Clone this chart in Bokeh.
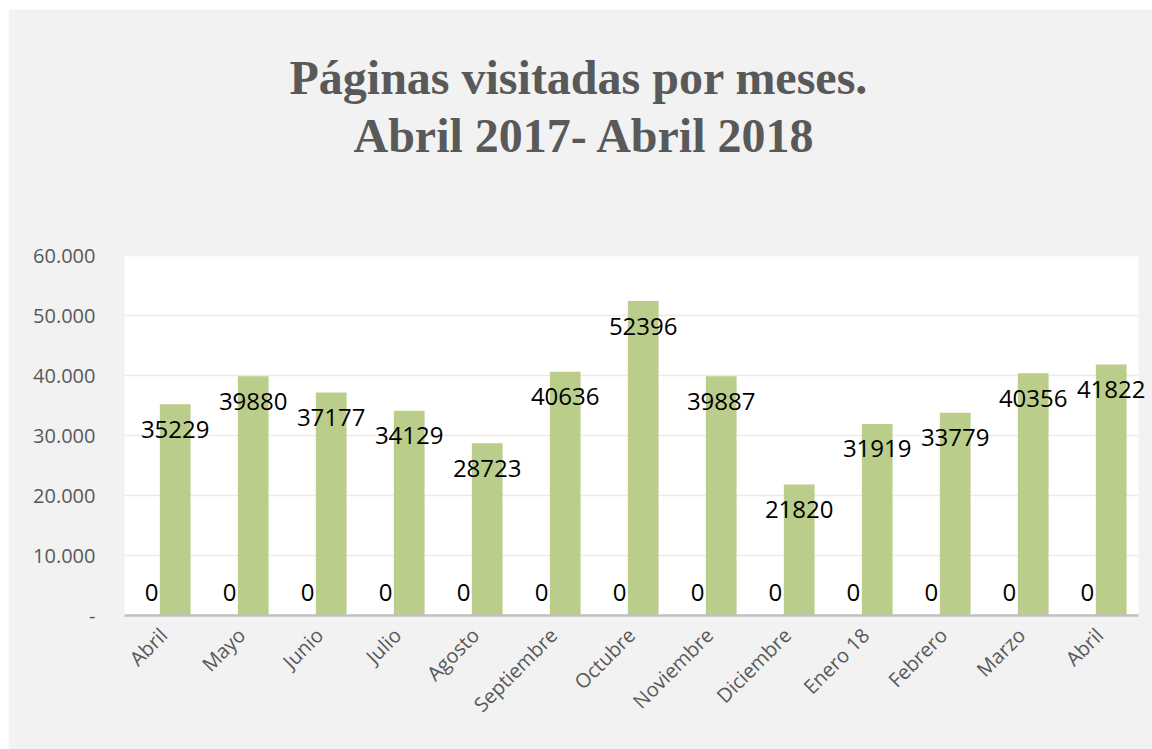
import math
from bokeh.plotting import figure
from bokeh.models import (FixedTicker, Range1d, LabelSet, ColumnDataSource, Title,
                          BoxAnnotation)
from bokeh.embed import file_html
from bokeh.resources import INLINE
from bokeh.core.properties import value

# ---- data ----
months = ["Abril", "Mayo", "Junio", "Julio", "Agosto", "Septiembre", "Octubre",
          "Noviembre", "Diciembre", "Enero 18", "Febrero", "Marzo", "Abril"]
visits = [35229, 39880, 37177, 34129, 28723, 40636, 52396,
          39887, 21820, 31919, 33779, 40356, 41822]
zero_series = [0, 0, 0, 0, 0, 0, 0, 0, 0, 0, 0, 0, 0]
y_ticks = [0, 10000, 20000, 30000, 40000, 50000, 60000]
y_tick_labels = ["-", "10.000", "20.000", "30.000", "40.000", "50.000", "60.000"]
title_line1 = "Páginas visitadas por meses."
title_line2 = "Abril 2017- Abril 2018"

# ---- styling ----
BAR_COLOR = "#bacd8a"
GRAY_TXT = "#595959"
FONT = "Open Sans"
TITLE_FONT = "Liberation Serif"

n = len(months)
idx = list(range(n))
bar_x = [i + 0.15 for i in idx]
zero_x = [i - 0.154 for i in idx]

src_vals = ColumnDataSource(dict(x=bar_x, y=visits, lbl=[str(v) for v in visits]))
src_zero = ColumnDataSource(dict(x=zero_x, y=zero_series, lbl=[str(v) for v in zero_series]))

p = figure(width=1144, height=741, margin=(9, 0, 0, 8),
           x_range=Range1d(-0.5, n - 0.5 + 0.1026), y_range=Range1d(0, 60000),
           output_backend="svg", toolbar_location=None,
           min_border_left=116, min_border_right=6, min_border_top=246, min_border_bottom=135,
           background_fill_color="#f2f2f2", border_fill_color="#f2f2f2",
           outline_line_color=None)

# white plot area (category span only)
p.add_layout(BoxAnnotation(left=-0.5, right=n - 0.5, bottom=y_ticks[0], top=y_ticks[-1],
                           fill_color="white", fill_alpha=1.0, line_color=None,
                           level="underlay"))

# horizontal grid lines, drawn over the category span
p.segment(x0=[-0.5] * len(y_ticks), x1=[n - 0.5] * len(y_ticks), y0=y_ticks, y1=y_ticks,
          line_color="#ebebeb", line_width=1.5)
p.xgrid.grid_line_color = None
p.ygrid.grid_line_color = None

p.vbar(x="x", top="y", width=0.394, source=src_vals, fill_color=BAR_COLOR, line_color=None)

p.add_layout(LabelSet(x="x", y="y", text="lbl", source=src_vals, text_align="center",
                      text_baseline="middle", y_offset=-25, text_font=value(FONT),
                      text_font_size="24px", text_color="black"))
p.add_layout(LabelSet(x="x", y="y", text="lbl", source=src_zero, text_align="center",
                      text_baseline="middle", y_offset=23, text_font=value(FONT),
                      text_font_size="24px", text_color="black"))

# y axis
p.yaxis.ticker = FixedTicker(ticks=y_ticks)
p.yaxis.major_label_overrides = {t: l for t, l in zip(y_ticks, y_tick_labels)}
p.yaxis.axis_line_color = None
p.yaxis.major_tick_line_color = None
p.yaxis.minor_tick_line_color = None
p.yaxis.major_label_standoff = 23
p.yaxis.major_label_text_font = FONT
p.yaxis.major_label_text_font_size = "20px"
p.yaxis.major_label_text_color = GRAY_TXT

# x axis
p.xaxis.ticker = FixedTicker(ticks=idx)
p.xaxis.bounds = (-0.5, n - 0.5)
p.xaxis.major_label_overrides = {i: m for i, m in zip(idx, months)}
p.xaxis.major_label_orientation = math.pi / 4
p.xaxis.axis_line_color = "#bfbfbf"
p.xaxis.axis_line_width = 2.5
p.xaxis.major_tick_line_color = None
p.xaxis.minor_tick_line_color = None
p.xaxis.major_label_standoff = 10
p.xaxis.major_label_text_font = FONT
p.xaxis.major_label_text_font_size = "20px"
p.xaxis.major_label_text_color = GRAY_TXT

# title: two lines, with an empty spacer between them and the plot area
p.add_layout(Title(text=" ", text_font_size="1px", standoff=87), "above")
p.add_layout(Title(text=title_line2, align="left", offset=229, text_font=TITLE_FONT,
                   text_font_style="bold", text_font_size="48px", text_color=GRAY_TXT,
                   standoff=7), "above")
p.title.text = title_line1
p.title.align = "left"
p.title.offset = 165
p.title.text_font = TITLE_FONT
p.title.text_font_style = "bold"
p.title.text_font_size = "48px"
p.title.text_color = GRAY_TXT
p.title.standoff = 0

open("out.html", "w").write(file_html(p, INLINE))
